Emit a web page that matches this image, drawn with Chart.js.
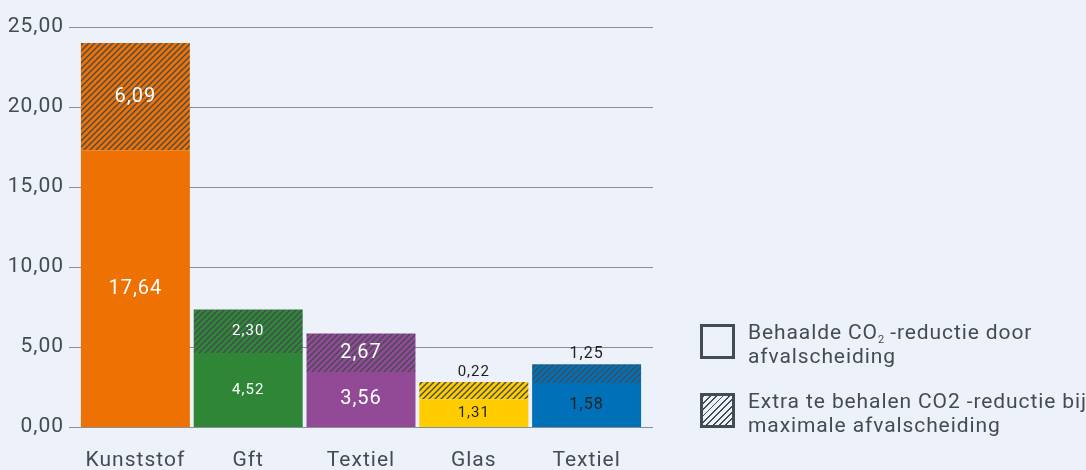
<!DOCTYPE html>
<html>
<head>
<meta charset="utf-8">
<script src="https://cdn.jsdelivr.net/npm/chart.js@4"></script>
<style>
body { margin: 0; background: #edf1fa; font-family: Roboto, sans-serif; }
.wrap { position: relative; width: 1086px; height: 470px; }
.legend { position: absolute; left: 700px; color: #454b53; font-size: 21px; line-height: 24px; letter-spacing: 0.9px; }
.legend .box { position: absolute; left: 0; top: 0; width: 29px; height: 29px; border: 3px solid #454b53; }
.legend .txt { position: absolute; left: 48px; top: -4px; white-space: nowrap; }
.legend .hatch { background: repeating-linear-gradient(135deg, #454b53 0 1.3px, transparent 1.3px 4.5px); }
sub { font-size: 11px; vertical-align: -4px; line-height: 0; letter-spacing: 0; }
</style>
</head>
<body>
<div class="wrap">
    <canvas id="co2_graph" width="1086" height="470"></canvas>
    <div class="legend" style="top:324px">
        <div class="box"></div>
        <div class="txt">Behaalde CO<sub>2</sub> -reductie door<br>afvalscheiding</div>
    </div>
    <div class="legend" style="top:393px">
        <div class="box hatch"></div>
        <div class="txt">Extra te behalen CO2 -reductie bij<br>maximale afvalscheiding</div>
    </div>
</div>
<script>
// waarden
const categories = ['Kunststof', 'Gft', 'Textiel', 'Glas', 'Textiel'];
const behaald = [17.3, 4.63, 3.44, 1.73, 2.75];
const extra = [6.7, 2.71, 2.40, 1.08, 1.17];
const behaaldLabels = ['17,64', '4,52', '3,56', '1,31', '1,58'];
const extraLabels = ['6,09', '2,30', '2,67', '0,22', '1,25'];
const barColors = ['#ee7203', '#2e8636', '#934a96', '#ffcc00', '#0070b8'];
const labelColors = ['#ffffff', '#ffffff', '#ffffff', '#222222', '#222222'];
const labelSizes = [20, 15, 20, 15, 16];
const extraOutside = [false, false, false, true, true];
const yTicks = [0, 5, 10, 15, 20, 25];

function hatch(color) {
    const c = document.createElement('canvas');
    c.width = 6;
    c.height = 6;
    const g = c.getContext('2d');
    g.fillStyle = color;
    g.fillRect(0, 0, 6, 6);
    g.strokeStyle = '#454b53';
    g.lineWidth = 1.4;
    g.beginPath();
    g.moveTo(0, 6); g.lineTo(6, 0);
    g.moveTo(-1, 1); g.lineTo(1, -1);
    g.moveTo(5, 7); g.lineTo(7, 5);
    g.stroke();
    return g.createPattern(c, 'repeat');
}

// letterafstand zoals in het origineel
const spacing = {
    id: 'spacing',
    beforeDraw(chart) {
        chart.ctx.letterSpacing = '1px';
    }
};

const valueLabels = {
    id: 'valueLabels',
    afterDatasetsDraw(chart) {
        const ctx = chart.ctx;
        ctx.save();
        ctx.textAlign = 'center';
        ctx.textBaseline = 'middle';
        [behaaldLabels, extraLabels].forEach(function (labels, di) {
            chart.getDatasetMeta(di).data.forEach(function (bar, i) {
                ctx.font = labelSizes[i] + 'px Roboto';
                ctx.fillStyle = labelColors[i];
                let y = (bar.y + bar.base) / 2;
                if (di === 1 && extraOutside[i]) {
                    y = bar.y - 10;
                }
                ctx.fillText(labels[i], bar.x, y);
            });
        });
        ctx.restore();
    }
};

// rasterlijnen, iets breder dan het plotgebied
const gridLines = {
    id: 'gridLines',
    beforeDatasetsDraw(chart) {
        const ctx = chart.ctx;
        const y = chart.scales.y;
        const area = chart.chartArea;
        ctx.save();
        ctx.strokeStyle = '#8c9096';
        ctx.lineWidth = 1;
        yTicks.forEach(function (t) {
            const py = Math.round(y.getPixelForValue(t)) + 0.5;
            ctx.beginPath();
            ctx.moveTo(area.left - 10, py);
            ctx.lineTo(area.right + 10, py);
            ctx.stroke();
        });
        ctx.restore();
    }
};

new Chart(document.getElementById('co2_graph'), {
    type: 'bar',
    data: {
        labels: categories,
        datasets: [{
            label: 'Behaalde CO2 -reductie door afvalscheiding',
            data: behaald,
            backgroundColor: barColors,
            borderWidth: 0
        }, {
            label: 'Extra te behalen CO2 -reductie bij maximale afvalscheiding',
            data: extra,
            backgroundColor: barColors.map(hatch),
            borderWidth: 0
        }]
    },
    options: {
        responsive: false,
        animation: false,
        barPercentage: 1,
        categoryPercentage: 0.966,
        layout: {
            padding: { top: 27, right: 443, left: 0, bottom: 0 }
        },
        plugins: {
            legend: { display: false },
            tooltip: { enabled: false }
        },
        scales: {
            x: {
                stacked: true,
                grid: { display: false },
                border: { display: false },
                ticks: {
                    color: '#454b53',
                    font: { family: 'Roboto', size: 21 },
                    padding: 13
                },
                afterFit: function (axis) {
                    axis.height = 43;
                    axis.paddingLeft = 0;
                    axis.paddingRight = 0;
                }
            },
            y: {
                stacked: true,
                min: 0,
                max: 25,
                border: { display: false },
                grid: { display: false },
                ticks: {
                    stepSize: 5,
                    color: '#454b53',
                    padding: 7,
                    font: { family: 'Roboto', size: 21 },
                    callback: function (v) { return v.toFixed(2).replace('.', ','); }
                },
                afterFit: function (axis) {
                    axis.width = 79;
                    axis.paddingTop = 0;
                    axis.paddingBottom = 0;
                }
            }
        }
    },
    plugins: [spacing, gridLines, valueLabels]
});
</script>
</body>
</html>
